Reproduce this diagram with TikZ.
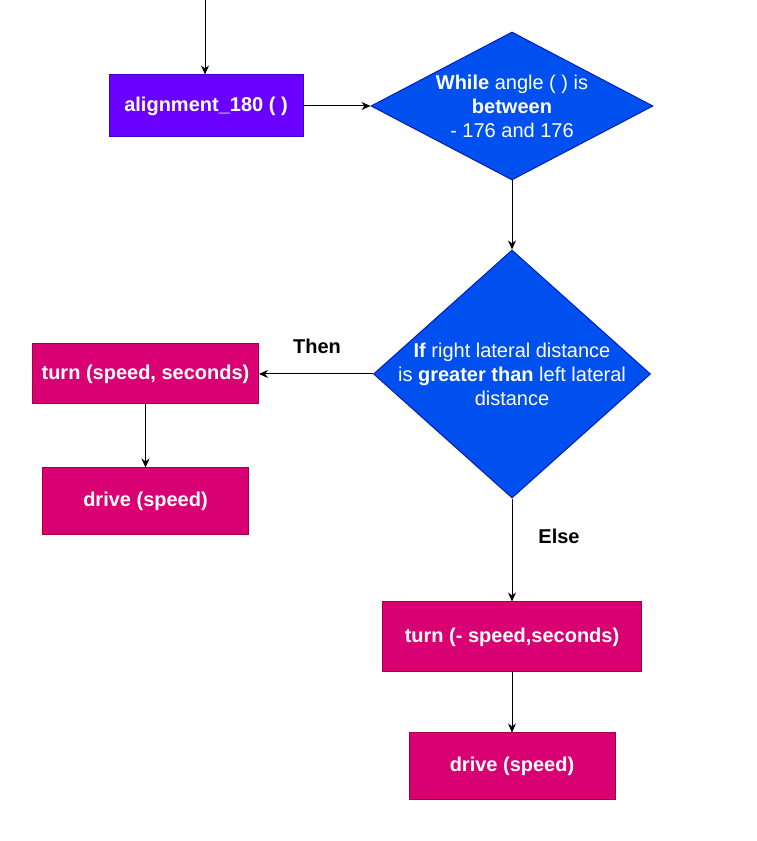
\documentclass[tikz,border=0pt]{standalone}
\usepackage{fontspec}
\setmainfont{Liberation Sans}
\usetikzlibrary{shapes.geometric,positioning,arrows.meta}
\definecolor{alignfill}{HTML}{6A00FF}
\definecolor{alignline}{HTML}{3700CC}
\definecolor{loopfill}{HTML}{0050EF}
\definecolor{loopline}{HTML}{001DBC}
\definecolor{actfill}{HTML}{D80073}
\definecolor{actline}{HTML}{A50040}
\begin{document}
\begin{tikzpicture}[x=1pt, y=1pt, line width=1pt, >={Stealth[length=9pt,width=8pt]},
    font=\fontsize{20}{24}\selectfont,
    box/.style={draw, rectangle, inner sep=0pt, text=white, font=\fontsize{20}{24}\selectfont\bfseries},
    decision/.style={draw, diamond, inner sep=0pt},
    inside/.style={align=center, text=white, inner sep=0pt},
    lbl/.style={text=black, font=\fontsize{20}{24}\selectfont\bfseries}]
        \fill[white] (0,0) rectangle (756,841);
        \useasboundingbox (0,0) rectangle (756,841);
        \coordinate (in) at (205,841);
        \node[box, fill=alignfill, draw=alignline, minimum width=194pt, minimum height=62pt] (align) at (206,735) {alignment\_180 ( )};
        \node[decision, fill=loopfill, draw=loopline, minimum width=282pt, minimum height=148pt, right=67pt of align] (while) {};
        \node[inside] (whiletxt) at (while.center) {\textbf{While} angle ( ) is\\ \textbf{between}\\ - 176 and 176};
        \node[decision, fill=loopfill, draw=loopline, minimum width=277pt, minimum height=248pt, below=69pt of while] (if) {};
        \node[inside] (iftxt) at (if.center) {\textbf{If} right lateral distance\\ is \textbf{greater than} left lateral\\ distance};
        \node[box, fill=actfill, draw=actline, minimum width=226pt, minimum height=60pt, left=114pt of if] (turnA) {turn (speed, seconds)};
        \node[box, fill=actfill, draw=actline, minimum width=206pt, minimum height=67pt, below=63pt of turnA] (driveA) {drive (speed)};
        \node[box, fill=actfill, draw=actline, minimum width=259pt, minimum height=70pt, below=103pt of if] (turnB) {turn (- speed,seconds)};
        \node[box, fill=actfill, draw=actline, minimum width=206pt, minimum height=67pt, below=60pt of turnB] (driveB) {drive (speed)};
        \node[lbl] (then) at (317,495) {Then};
        \node[lbl] (else) at (559,305) {Else};
        \draw[->] (in) -- (in |- align.north);
        \draw[->] (align) -- (while);
        \draw[->] (while) -- (if);
        \draw[->] (if) -- (turnA);
        \draw[->] (turnA) -- (driveA);
        \draw[->] (if) -- (turnB);
        \draw[->] (turnB) -- (driveB);
    \end{tikzpicture}
\end{document}
